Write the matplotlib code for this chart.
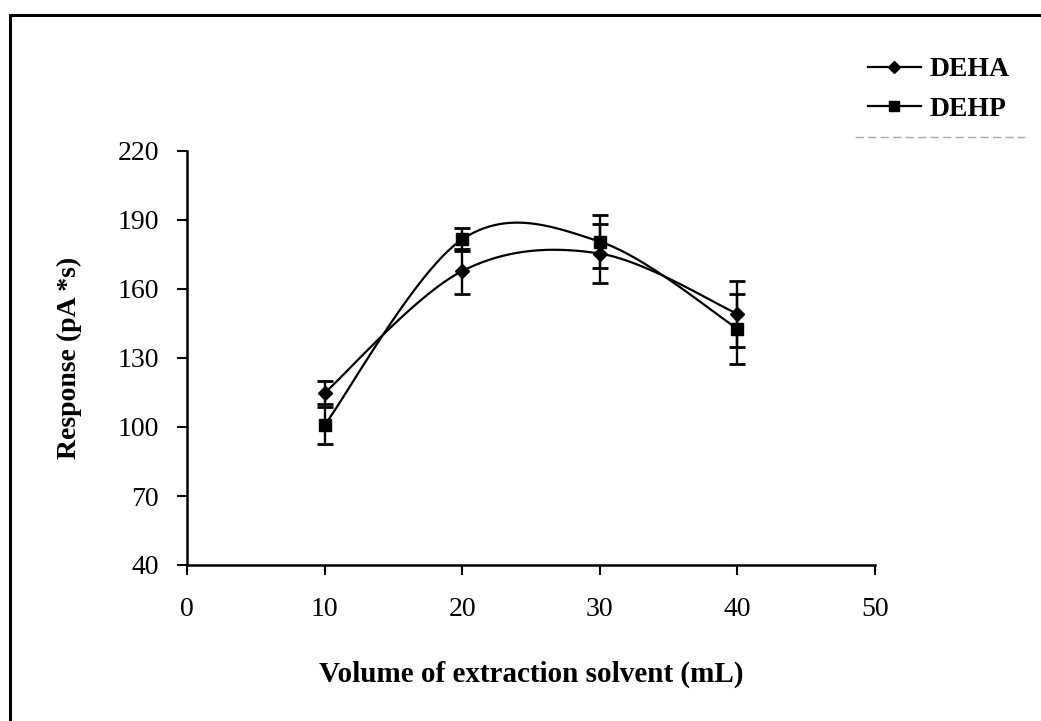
import matplotlib
matplotlib.use('Agg')
import matplotlib.pyplot as plt
from matplotlib.patches import Rectangle
from matplotlib.lines import Line2D
import numpy as np

# datos
volume = [10, 20, 30, 40]
deha = [114.8, 167.8, 175.4, 149.2]
deha_err = [5.0, 9.8, 13.0, 14.4]
dehp = [100.8, 181.6, 180.6, 142.8]
dehp_err = [8.0, 5.0, 11.6, 15.2]

x_ticks = [0, 10, 20, 30, 40, 50]
y_ticks = [40, 70, 100, 130, 160, 190, 220]

plt.rcParams['font.family'] = ['Liberation Serif', 'DejaVu Serif']


def smooth(xs, ys, n=40):
    # curva suavizada tipo Excel (Catmull-Rom con Bezier cubicas)
    xs = np.asarray(xs, float)
    ys = np.asarray(ys, float)
    px = np.concatenate([[xs[0]], xs, [xs[-1]]])
    py = np.concatenate([[ys[0]], ys, [ys[-1]]])
    out_x, out_y = [], []
    t = np.linspace(0, 1, n)
    for i in range(1, len(px) - 2):
        p0 = np.array([px[i], py[i]])
        p3 = np.array([px[i + 1], py[i + 1]])
        p1 = p0 + (np.array([px[i + 1], py[i + 1]]) - np.array([px[i - 1], py[i - 1]])) / 6
        p2 = p3 - (np.array([px[i + 2], py[i + 2]]) - np.array([px[i], py[i]])) / 6
        b = ((1 - t) ** 3)[:, None] * p0 + (3 * (1 - t) ** 2 * t)[:, None] * p1 \
            + (3 * (1 - t) * t ** 2)[:, None] * p2 + (t ** 3)[:, None] * p3
        out_x.extend(b[:, 0])
        out_y.extend(b[:, 1])
    return out_x, out_y


fig = plt.figure(figsize=(10.41, 7.21), dpi=100)
# marco exterior
fig.patches.append(Rectangle((10 / 1041, -0.1), 1.2, 1.1 - 15 / 721,
                             transform=fig.transFigure, fill=False,
                             edgecolor='black', linewidth=2.2))
# linea gris tenue bajo la leyenda (del escaneo)
fig.lines.append(Line2D([855 / 1041, 1025 / 1041], [1 - 137 / 721, 1 - 137 / 721],
                        transform=fig.transFigure, color='#aaaaaa',
                        linewidth=1, linestyle=(0, (6, 3))))

ax = fig.add_axes([187 / 1041, 1 - 565 / 721, 688 / 1041, 414 / 721])

for ys, err, mk, ms, name in [(deha, deha_err, 'D', 7.5, 'DEHA'),
                              (dehp, dehp_err, 's', 8.5, 'DEHP')]:
    sx, sy = smooth(volume, ys)
    ax.plot(sx, sy, color='black', linewidth=1.6)
    ax.errorbar(volume, ys, yerr=err, fmt='none', ecolor='black',
                elinewidth=1.7, capsize=5.5, capthick=2.0)
    ax.plot(volume, ys, linestyle='none', marker=mk, markersize=ms, color='black')
    ax.plot([], [], color='black', linewidth=1.6, marker=mk,
            markersize=ms - 1.5, label=name)

ax.set_xlim(0, 50)
ax.set_ylim(40, 220)
ax.set_xticks(x_ticks)
ax.set_yticks(y_ticks)
ax.spines['top'].set_visible(False)
ax.spines['right'].set_visible(False)
ax.spines['left'].set_linewidth(1.8)
ax.spines['bottom'].set_linewidth(1.8)
ax.tick_params(axis='both', direction='out', length=7, width=1.5, labelsize=20)
ax.tick_params(axis='x', pad=16)
ax.tick_params(axis='y', pad=13)

ax.set_xlabel('Volume of extraction solvent (mL)', fontsize=21, fontweight='bold', labelpad=28)
ax.set_ylabel('Response (pA *s)', fontsize=20, fontweight='bold', labelpad=26)

leg = fig.legend(loc='upper left', bbox_to_anchor=(843 / 1041, 1 - 32 / 721),
                 frameon=False, prop={'weight': 'bold', 'size': 20},
                 handlelength=1.9, handletextpad=0.3, labelspacing=0.5)

plt.savefig('out.png', dpi=100)
plt.close()
